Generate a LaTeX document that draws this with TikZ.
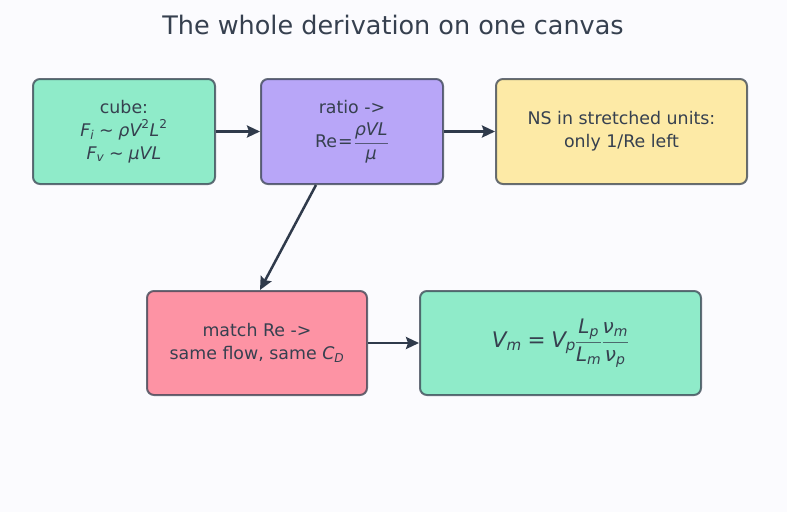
\documentclass[tikz,border=0pt]{standalone}
\usepackage{amsmath}
\usepackage{fontspec}
\setmainfont{DejaVu Sans}
\usetikzlibrary{arrows.meta,shapes}
\definecolor{ink}{HTML}{36404F}
\definecolor{arrowink}{HTML}{2F3A4B}
\definecolor{canvas}{HTML}{FBFBFE}
\definecolor{mint}{HTML}{8FEBC9}
\definecolor{lilac}{HTML}{B8A6F8}
\definecolor{butter}{HTML}{FDEAA6}
\definecolor{rose}{HTML}{FD93A4}
\newcommand{\vi}[1]{\textit{#1}}
\newcommand{\sizedfrac}[3]{\text{\fontsize{#1}{#1}\selectfont$\dfrac{#2}{#3}$}}
\tikzstyle{card}=[rectangle,rounded corners=7pt,draw=ink,draw opacity=0.75,line width=2pt,align=center,text=ink,inner sep=0pt,font=\fontsize{17.4}{23}\selectfont]
\tikzstyle{small card}=[card,minimum width=182pt,minimum height=105pt]
\tikzstyle{wide card}=[card,minimum height=104pt]
\tikzstyle{edge}=[draw,line width=2.5pt,arrowink,-{Stealth[length=13pt,width=12pt,inset=2pt]}]

\begin{document}
\begin{tikzpicture}[x=1pt,y=-1pt]
    % canvas and title
    \fill[canvas] (0,0) rectangle (787,512);
    \node[text=ink,font=\fontsize{25.5}{30}\selectfont] (title) at (393,25) {The whole derivation on one canvas};

    % First we draw the cards
    \node[small card,fill=mint] (cube) at (124,131.5)
        {cube:\\ $\vi{F}_{\vi{i}}\mathrel{\text{∼}}\vi{ρV}^{\text{2}}\vi{L}^{\text{2}}$\\ $\vi{F}_{\vi{v}}\mathrel{\text{∼}}\vi{μVL}$};
    \node[small card,fill=lilac] (ratio) at (352,131.5)
        {ratio ->\\[8pt] $\text{Re}\mkern1mu\text{=}\mkern1mu\sizedfrac{17.5}{\vi{ρVL}}{\vi{μ}}$};
    \node[small card,fill=butter,minimum width=251pt] (ns) at (621.5,131.5)
        {NS in stretched units:\\ only 1/Re left};
    \node[wide card,fill=rose,minimum width=220pt] (match) at (257,343)
        {match Re ->\\ same flow, same $\vi{C}_{\vi{D}}$};
    \node[wide card,fill=mint,minimum width=281pt,font=\fontsize{21.5}{26}\selectfont] (result) at (560.5,343)
        {$\vi{V}_{\vi{m}}\mathrel{\text{=}}\vi{V}_{\vi{p}}\mkern-1mu\sizedfrac{20}{\vi{L}_{\vi{p}}}{\vi{L}_{\vi{m}}}\mkern-1mu\sizedfrac{20}{\vi{ν}_{\vi{m}}}{\vi{ν}_{\vi{p}}}$};

    % Connect cards with arrows
    \foreach \source/\dest in {cube/ratio, ratio/ns, match/result}
        \path[edge] (\source) -- (\dest);
    \path[edge] ([xshift=-36pt]ratio.south) -- ([xshift=3pt]match.north);
\end{tikzpicture}
\end{document}
